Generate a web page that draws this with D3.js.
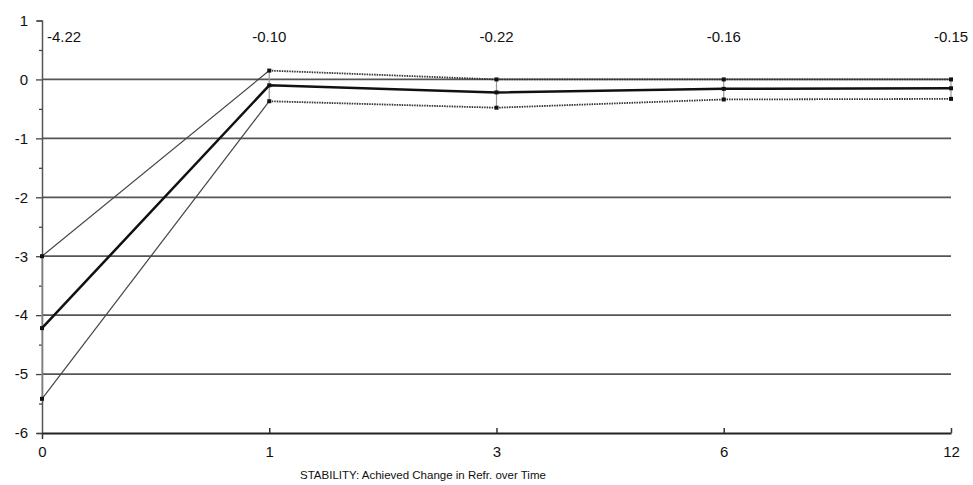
<!DOCTYPE html>
<html>
<head>
<meta charset="utf-8">
<script src="https://cdn.jsdelivr.net/npm/d3@7"></script>
<style>
body { margin: 0; background: #fff; }
text { font-family: Arial, "Liberation Sans", sans-serif; }
</style>
</head>
<body>
<div id="chart-area"></div>
<script>
// months after treatment
var months = ["0", "1", "3", "6", "12"];
var meanChange = [-4.22, -0.10, -0.22, -0.16, -0.15];
var upperBound = [-3.00, 0.15, 0.00, 0.00, 0.00];
var lowerBound = [-5.42, -0.37, -0.48, -0.34, -0.33];
var yTicks = [1, 0, -1, -2, -3, -4, -5, -6];

var width = 973, height = 485;

var svg = d3.select("#chart-area").append("svg")
    .attr("width", width)
    .attr("height", height);

var x = d3.scalePoint()
    .domain(months)
    .range([42, 951]);

var y = d3.scaleLinear()
    .domain([-6, 1])
    .range([433, 20.5]);

// gridlines
svg.selectAll("line.grid")
    .data(yTicks.filter(d => d > -6 && d < 1))
    .enter()
    .append("line")
    .attr("class", "grid")
    .attr("x1", x("0"))
    .attr("x2", x("12"))
    .attr("y1", d => y(d))
    .attr("y2", d => y(d))
    .attr("stroke", "#555")
    .attr("stroke-width", 1.7);

// y axis with half-unit minor ticks
var yAxis = d3.axisLeft(y)
    .tickValues(d3.range(-6, 1.01, 0.5))
    .tickSize(5)
    .tickFormat(d => Number.isInteger(d) ? d : "");

var gy = svg.append("g")
    .attr("transform", "translate(" + x("0") + ",0)")
    .call(yAxis);
gy.select(".domain").attr("stroke", "#555").attr("stroke-width", 1.5);
gy.selectAll(".tick line").attr("stroke", "#444").attr("stroke-width", 1.3).attr("x2", d => Number.isInteger(d) ? -6 : -3);
gy.selectAll(".tick text")
    .attr("x", -14)
    .attr("font-size", 15)
    .attr("fill", "#111");

// x axis
var xAxis = d3.axisBottom(x).tickSize(5).tickSizeOuter(0);
var gx = svg.append("g")
    .attr("transform", "translate(0," + y(-6) + ")")
    .call(xAxis);
gx.select(".domain").attr("stroke", "#222").attr("stroke-width", 2.2);
gx.selectAll(".tick line").attr("stroke", "#333").attr("stroke-width", 1.5).attr("y2", d => d === "0" ? 6 : -5);
gx.selectAll(".tick text")
    .attr("y", 13)
    .attr("font-size", 15)
    .attr("fill", "#111");

// error bars
svg.selectAll("line.err")
    .data(months)
    .enter()
    .append("line")
    .attr("class", "err")
    .attr("x1", d => x(d))
    .attr("x2", d => x(d))
    .attr("y1", (d, i) => y(upperBound[i]))
    .attr("y2", (d, i) => y(lowerBound[i]))
    .attr("stroke", "#999")
    .attr("stroke-width", 1.2);

// bound lines: first segment thin solid, later segments dotted
function boundLines(vals) {
    var pts = months.map((m, i) => [x(m), y(vals[i])]);
    svg.append("path")
        .attr("d", d3.line()(pts.slice(0, 2)))
        .attr("fill", "none")
        .attr("stroke", "#444")
        .attr("stroke-width", 1.2);
    svg.append("path")
        .attr("d", d3.line()(pts.slice(1)))
        .attr("fill", "none")
        .attr("stroke", "#333")
        .attr("stroke-width", 1.8)
        .attr("stroke-dasharray", "1.5,1");
    svg.selectAll(null)
        .data(pts)
        .enter()
        .append("rect")
        .attr("x", d => d[0] - 2)
        .attr("y", d => d[1] - 2)
        .attr("width", 4)
        .attr("height", 4)
        .attr("fill", "#111");
}
boundLines(upperBound);
boundLines(lowerBound);

// mean line
var meanPts = months.map((m, i) => [x(m), y(meanChange[i])]);
svg.append("path")
    .attr("d", d3.line()(meanPts))
    .attr("fill", "none")
    .attr("stroke", "#111")
    .attr("stroke-width", 2.5);
svg.selectAll(null)
    .data(meanPts)
    .enter()
    .append("rect")
    .attr("x", d => d[0] - 2)
    .attr("y", d => d[1] - 2)
    .attr("width", 4)
    .attr("height", 4)
    .attr("fill", "#111");

// value labels on top
svg.selectAll("text.val")
    .data(months)
    .enter()
    .append("text")
    .attr("class", "val")
    .attr("x", (d, i) => i === 0 ? x(d) + 5 : x(d))
    .attr("y", 42)
    .attr("text-anchor", (d, i) => i === 0 ? "start" : "middle")
    .attr("font-size", 15)
    .attr("fill", "#111")
    .text((d, i) => meanChange[i].toFixed(2));

// caption
svg.append("text")
    .attr("x", 300)
    .attr("y", 479)
    .attr("font-size", 11.5)
    .attr("fill", "#111")
    .text("STABILITY: Achieved Change in Refr. over Time");
</script>
</body>
</html>
